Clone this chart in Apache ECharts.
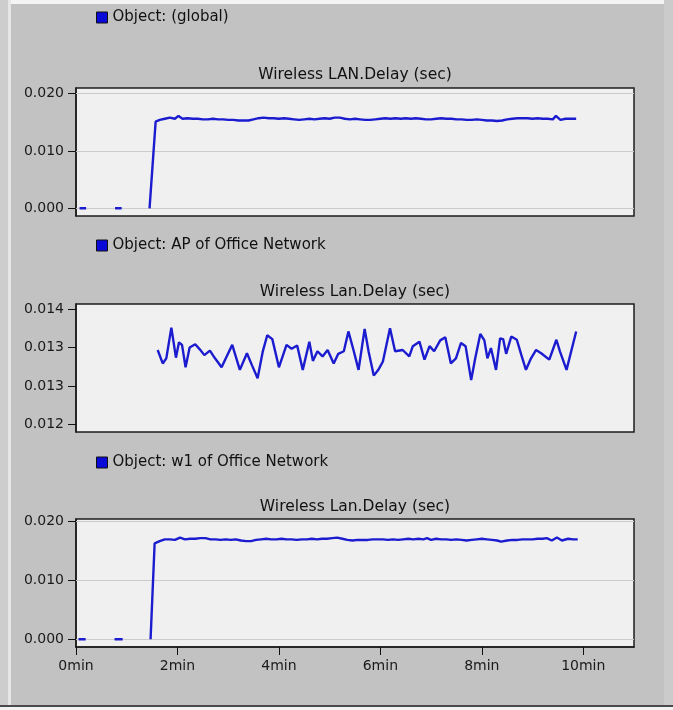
<!DOCTYPE html>
<html>
<head>
<meta charset="utf-8">
<script src="https://cdn.jsdelivr.net/npm/echarts@6/dist/echarts.min.js"></script>
<style>
html,body{margin:0;padding:0;background:#c2c2c2;}
#chart{width:673px;height:710px;}
</style>
</head>
<body>
<div id="chart"></div>
<script>
// ---------- data (time in minutes, delay in seconds) ----------
const panelNames = ['Object: (global)', 'Object: AP of Office Network', 'Object: w1 of Office Network'];
const panelTitles = ['Wireless LAN.Delay (sec)', 'Wireless Lan.Delay (sec)', 'Wireless Lan.Delay (sec)'];

const globalTime = [0.07,0.20,0.5,0.77,0.90,1.2,1.45,1.57,1.65,1.75,1.85,1.95,2.02,2.1,2.2,2.3,2.4,2.5,2.6,2.7,2.8,2.9,3.0,3.1,3.2,3.3,3.4,3.5,3.6,3.7,3.8,3.9,4.0,4.1,4.2,4.3,4.4,4.5,4.6,4.7,4.8,4.9,5.0,5.1,5.2,5.3,5.4,5.5,5.6,5.7,5.8,5.9,6.0,6.1,6.2,6.3,6.4,6.5,6.6,6.7,6.8,6.9,7.0,7.1,7.2,7.3,7.4,7.5,7.6,7.7,7.8,7.9,8.0,8.1,8.2,8.3,8.4,8.5,8.6,8.7,8.8,8.9,9.0,9.1,9.2,9.3,9.4,9.46,9.55,9.65,9.75,9.86];
const globalDelay = [0,0,null,0,0,null,0,0.0151,0.0154,0.0156,0.0158,0.0156,0.0161,0.0156,0.0157,0.0156,0.0156,0.0155,0.0155,0.0156,0.0155,0.0155,0.0154,0.0154,0.0153,0.0153,0.0153,0.0155,0.0157,0.0158,0.0157,0.0157,0.0156,0.0157,0.0156,0.0155,0.0154,0.0155,0.0156,0.0155,0.0156,0.0157,0.0156,0.0158,0.0158,0.0156,0.0155,0.0156,0.0155,0.0154,0.0154,0.0155,0.0156,0.0157,0.0156,0.0157,0.0156,0.0157,0.0156,0.0157,0.0156,0.0155,0.0155,0.0156,0.0157,0.0156,0.0156,0.0155,0.0155,0.0154,0.0154,0.0155,0.0154,0.0153,0.0153,0.0152,0.0153,0.0155,0.0156,0.0157,0.0157,0.0157,0.0156,0.0157,0.0156,0.0156,0.0155,0.0161,0.0154,0.0156,0.0156,0.0156];

const apTime = [1.61,1.71,1.78,1.88,1.97,2.03,2.09,2.16,2.24,2.35,2.44,2.53,2.64,2.74,2.87,2.97,3.08,3.23,3.37,3.47,3.58,3.68,3.77,3.87,4.00,4.15,4.25,4.36,4.47,4.60,4.67,4.76,4.86,4.96,5.08,5.17,5.28,5.37,5.47,5.57,5.69,5.77,5.87,5.96,6.05,6.19,6.29,6.44,6.57,6.64,6.77,6.87,6.97,7.06,7.18,7.28,7.39,7.49,7.59,7.68,7.79,7.87,7.97,8.05,8.11,8.18,8.28,8.36,8.42,8.48,8.58,8.69,8.78,8.87,8.97,9.07,9.17,9.33,9.47,9.54,9.67,9.86];
const apDelay = [0.01336,0.01315,0.01323,0.01371,0.01324,0.01348,0.01344,0.01309,0.01340,0.01345,0.01337,0.01328,0.01335,0.01323,0.01309,0.01326,0.01344,0.01305,0.01331,0.01312,0.01292,0.01333,0.01359,0.01353,0.01309,0.01344,0.01338,0.01343,0.01305,0.01349,0.01319,0.01334,0.01326,0.01336,0.01315,0.01330,0.01334,0.01365,0.01336,0.01305,0.01369,0.01333,0.01296,0.01305,0.01318,0.01370,0.01334,0.01336,0.01326,0.01342,0.01349,0.01321,0.01342,0.01334,0.01351,0.01356,0.01315,0.01323,0.01347,0.01342,0.01289,0.01323,0.01361,0.01351,0.01323,0.01339,0.01305,0.01354,0.01353,0.01330,0.01357,0.01352,0.01328,0.01305,0.01323,0.01336,0.01331,0.01321,0.01352,0.01334,0.01305,0.01365];

const w1Time = [0.05,0.19,0.5,0.76,0.92,1.2,1.47,1.55,1.65,1.75,1.85,1.95,2.05,2.15,2.25,2.35,2.45,2.55,2.65,2.75,2.85,2.95,3.05,3.15,3.25,3.35,3.45,3.55,3.65,3.75,3.85,3.95,4.05,4.15,4.25,4.35,4.45,4.55,4.65,4.75,4.85,4.95,5.05,5.15,5.25,5.35,5.45,5.55,5.65,5.75,5.85,5.95,6.05,6.15,6.25,6.35,6.45,6.55,6.65,6.75,6.85,6.92,7.0,7.1,7.2,7.3,7.4,7.5,7.6,7.7,7.8,7.9,8.0,8.1,8.2,8.3,8.38,8.5,8.6,8.7,8.8,8.9,9.0,9.1,9.2,9.28,9.38,9.48,9.58,9.7,9.8,9.89];
const w1Delay = [0,0,null,0,0,null,0,0.0163,0.0167,0.0170,0.0170,0.0169,0.0173,0.0170,0.0171,0.0171,0.0172,0.0172,0.0170,0.0170,0.0169,0.0170,0.0169,0.0170,0.0168,0.0167,0.0167,0.0169,0.0170,0.0171,0.0170,0.0170,0.0171,0.0170,0.0170,0.0169,0.0170,0.0170,0.0171,0.0170,0.0171,0.0171,0.0172,0.0173,0.0171,0.0169,0.0168,0.0169,0.0169,0.0169,0.0170,0.0170,0.0170,0.0169,0.0170,0.0169,0.0170,0.0171,0.0170,0.0171,0.0170,0.0172,0.0169,0.0171,0.0170,0.0170,0.0169,0.0170,0.0169,0.0168,0.0169,0.0170,0.0171,0.0170,0.0169,0.0168,0.0166,0.0168,0.0169,0.0169,0.0170,0.0170,0.0170,0.0171,0.0171,0.0172,0.0168,0.0173,0.0168,0.0171,0.0170,0.0170];

const xTicks = [0, 2, 4, 6, 8, 10];
const xRange = [0, 11];
const yTicksGlobal = [0, 0.010, 0.020];
const yTicksAP = [0.0122, 0.0128, 0.0134, 0.0140];
const yTicksW1 = [0, 0.010, 0.020];
const yRangeGlobal = [-0.00134, 0.02096];
const yRangeAP = [0.01208, 0.014078];
const yRangeW1 = [-0.00131, 0.02046];

// ---------- build ----------
const pairs = (t, v) => t.map((x, i) => [x, v[i]]);
const seriesData = [pairs(globalTime, globalDelay), pairs(apTime, apDelay), pairs(w1Time, w1Delay)];
const yTicks = [yTicksGlobal, yTicksAP, yTicksW1];
const yRanges = [yRangeGlobal, yRangeAP, yRangeW1];

const FONT = 'DejaVu Sans';
const gridTops = [88, 304, 519];
const gridH = 128;
const titleY = [75, 292, 507];
const legendTop = [10, 238, 455];

const grids = gridTops.map(t => ({
  left: 76, right: 39, top: t, height: gridH,
  show: true, backgroundColor: '#f0f0f0', borderColor: '#1c1c1c', borderWidth: 1.5
}));

const xAxes = [0, 1, 2].map(i => ({
  type: 'value', gridIndex: i, min: xRange[0], max: xRange[1],
  show: i === 2,
  position: 'bottom',
  axisLine: { show: true, onZero: false, lineStyle: { color: '#1c1c1c', width: 1.5 } },
  splitLine: { show: false },
  axisTick: { show: true, inside: false, customValues: xTicks, length: 8, lineStyle: { color: '#111', width: 1 } },
  axisLabel: {
    show: true, customValues: xTicks, margin: 12,
    fontFamily: FONT, fontSize: 14, color: '#1a1a1a',
    formatter: v => v + 'min'
  }
}));

const yAxes = [0, 1, 2].map(i => ({
  type: 'value', gridIndex: i, min: yRanges[i][0], max: yRanges[i][1],
  position: 'left',
  axisLine: { show: true, onZero: false, lineStyle: { color: '#1c1c1c', width: 1.5 } },
  splitLine: { show: false },
  axisTick: { show: true, inside: false, customValues: yTicks[i], length: 8, lineStyle: { color: '#111', width: 1 } },
  axisLabel: {
    show: true, customValues: yTicks[i], margin: 12,
    fontFamily: FONT, fontSize: 14, color: '#1a1a1a',
    formatter: v => v.toFixed(3)
  }
}));

const series = [];
[0, 1, 2].forEach(i => {
  series.push({
    type: 'line', name: '_grid' + i, xAxisIndex: i, yAxisIndex: i, data: [], z: 1, silent: true,
    markLine: {
      z: 1, symbol: 'none', silent: true, animation: false, label: { show: false },
      lineStyle: { color: '#cbcbcb', type: 'solid', width: 1 },
      data: yTicks[i].map(v => ({ yAxis: v }))
    }
  });
  series.push({
    type: 'line', name: panelNames[i], xAxisIndex: i, yAxisIndex: i, z: 6,
    data: seriesData[i], showSymbol: false, connectNulls: false,
    itemStyle: { color: '#0a0ad8' },
    lineStyle: { color: '#1b1bcf', width: 2.4 }
  });
});

const legends = [0, 1, 2].map(i => ({
  data: [panelNames[i]], left: 96, top: legendTop[i], padding: 0,
  icon: 'rect', itemWidth: 11, itemHeight: 11, itemGap: 5,
  selectedMode: false,
  itemStyle: { borderColor: '#101010', borderWidth: 1 },
  textStyle: { fontFamily: FONT, fontSize: 15, color: '#111', padding: [0, 0, 0, 0] }
}));

const graphics = [
  { type: 'rect', shape: { x: 0, y: 0, width: 673, height: 4 }, style: { fill: '#f4f4f4' }, silent: true },
  { type: 'rect', shape: { x: 0, y: 0, width: 8, height: 710 }, style: { fill: '#cdcdcd' }, silent: true },
  { type: 'rect', shape: { x: 8, y: 0, width: 3, height: 710 }, style: { fill: '#e6e6e6' }, silent: true },
  { type: 'rect', shape: { x: 664, y: 0, width: 9, height: 710 }, style: { fill: '#cbcbcb' }, silent: true },
  { type: 'rect', shape: { x: 0, y: 705, width: 673, height: 2 }, style: { fill: '#4a4a4a' }, silent: true },
  { type: 'rect', shape: { x: 0, y: 707, width: 673, height: 3 }, style: { fill: '#f2f2f2' }, silent: true }
];
panelTitles.forEach((t, i) => {
  graphics.push({
    type: 'text', x: 355, y: titleY[i], silent: true,
    style: { text: t, fontFamily: FONT, fontSize: 15.5, fill: '#111', align: 'center', verticalAlign: 'middle' }
  });
});

const chart = echarts.init(document.getElementById('chart'), null, { renderer: 'canvas' });
chart.setOption({
  animation: false,
  backgroundColor: '#c2c2c2',
  grid: grids,
  xAxis: xAxes,
  yAxis: yAxes,
  legend: legends,
  graphic: graphics,
  series: series
});
</script>
</body>
</html>
